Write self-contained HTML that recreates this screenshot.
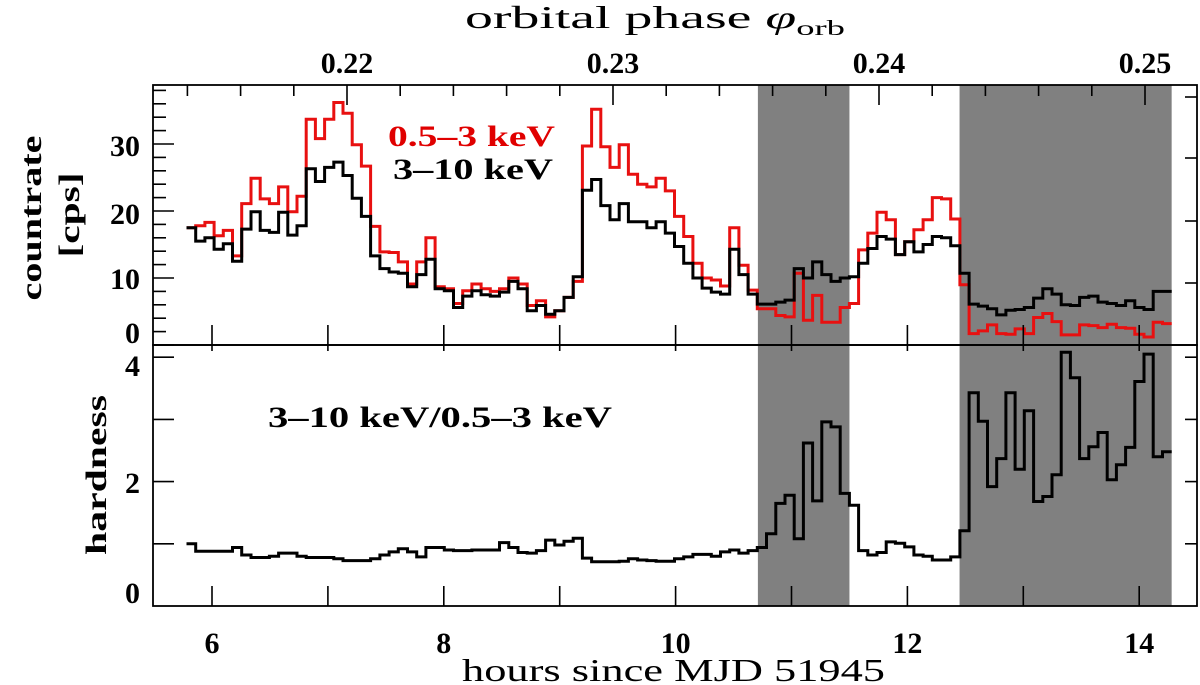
<!DOCTYPE html>
<html><head><meta charset="utf-8">
<style>
html,body{margin:0;padding:0;background:#fff;}
svg{display:block;font-family:"Liberation Serif",serif;}
.tl{font-size:30px;font-weight:bold;}
.ti{font-size:32px;}
</style></head>
<body>
<svg id="chart" width="1200" height="685" viewBox="0 0 1200 685" xmlns="http://www.w3.org/2000/svg">
<g id="bands"></g>
<g id="series"></g>
<g id="axes"></g>
<text class="ti" x="465" y="28" textLength="380" lengthAdjust="spacingAndGlyphs">orbital phase <tspan font-style="italic">φ</tspan><tspan font-size="21" dy="7">orb</tspan></text>
<text class="ti" x="462" y="681" textLength="423" lengthAdjust="spacingAndGlyphs">hours since MJD 51945</text>
<text class="tl" transform="translate(41,218) rotate(-90)" text-anchor="middle" textLength="165" lengthAdjust="spacingAndGlyphs">countrate</text>
<text class="tl" transform="translate(79,215) rotate(-90)" text-anchor="middle" textLength="85" lengthAdjust="spacingAndGlyphs">[cps]</text>
<text class="tl" transform="translate(106,475) rotate(-90)" text-anchor="middle" textLength="160" lengthAdjust="spacingAndGlyphs">hardness</text>
<text class="tl" x="388" y="146" fill="#e00000" textLength="167" lengthAdjust="spacingAndGlyphs">0.5–3 keV</text>
<text class="tl" x="393" y="179" fill="#000" textLength="160" lengthAdjust="spacingAndGlyphs">3–10 keV</text>
<text class="tl" x="268" y="427" fill="#000" textLength="344" lengthAdjust="spacingAndGlyphs">3–10 keV/0.5–3 keV</text>
</svg>
<script>
const binStart = 5.78;
const binWidth = 0.07944;
const hardRate = [17.5,15.5,16.0,14.3,15.1,12.5,17.3,19.9,17.1,16.8,19.8,16.4,17.8,26.3,24.4,26.5,27.3,25.3,21.9,19.2,13.3,11.4,10.9,10.7,8.7,
10.5,12.8,8.4,8.1,5.6,7.3,8.1,7.5,7.3,7.9,9.5,8.4,5.1,5.9,4.6,5.1,7.1,10.2,23.1,24.7,20.8,18.7,21.1,18.4,18.4,17.5,18.4,
16.7,14.7,12.2,10.0,8.5,7.9,7.6,14.3,10.5,7.6,6.1,6.1,6.4,6.7,11.4,10.0,12.4,10.5,9.5,10.0,10.2,12.2,14.4,16.2,15.8,13.5,15.4,13.9,
15.0,16.2,16.0,14.8,10.7,
6.1,5.8,5.4,4.5,5.2,5.3,5.6,7.0,8.4,7.6,6.0,5.9,7.1,7.3,6.4,6.2,5.9,6.6,5.6,5.3,8.0,8.0];
const softRate = [17.5,17.8,18.3,16.3,17.1,13.3,21.1,24.9,21.8,21.1,23.6,19.9,22.2,33.7,30.8,33.7,36.2,34.6,29.9,26.7,17.7,13.9,13.8,12.4,9.1,
12.4,16.0,8.7,8.4,6.2,8.1,9.1,8.4,8.0,8.4,10.0,9.1,5.9,6.6,4.2,5.1,7.1,9.5,29.7,35.2,29.6,26.5,29.9,25.5,24.0,23.6,24.9,
23.0,19.2,16.2,12.2,10.0,9.7,8.8,17.5,11.9,8.2,5.4,5.4,4.4,4.2,10.7,3.7,7.4,3.4,3.4,5.6,6.2,14.2,16.7,19.8,18.7,13.5,15.4,17.2,
18.7,22.0,21.8,18.8,9.0,
1.7,2.1,3.0,1.7,1.6,2.4,1.7,4.1,4.7,3.5,1.5,1.5,3.0,2.9,2.6,3.1,2.6,2.5,1.6,1.2,3.4,3.2];
const hardness = [1.00,0.88,0.88,0.88,0.88,0.94,0.82,0.78,0.78,0.80,0.85,0.85,0.80,0.78,0.78,0.78,0.76,0.73,0.73,0.73,0.76,0.82,0.87,0.92,0.87,0.79,0.94,0.94,0.90,0.89,0.89,0.90,0.90,0.90,1.02,0.94,0.86,0.85,0.89,
1.06,0.98,1.04,1.09,0.77,0.71,0.71,0.71,0.72,0.76,0.74,0.73,0.72,0.72,0.76,0.79,0.83,0.83,0.80,0.87,0.90,0.85,0.89,0.94,
1.16,1.65,1.78,1.08,2.62,1.69,2.96,2.88,1.81,1.62,
0.89,0.82,0.86,1.03,1.01,0.95,0.82,0.80,0.74,0.74,0.79,
1.21,3.43,2.97,1.92,2.37,3.43,2.20,3.14,1.68,1.76,2.11,4.08,3.67,2.37,2.56,2.79,2.03,2.27,2.55,3.61,4.05,2.40,2.48];
const shadedIntervals = [[10.71,11.50],[12.45,14.28]];
const hourTicks = [6,7,8,9,10,11,12,13,14];
const hourLabels = [6,8,10,12,14];
const phaseLabels = ["0.22","0.23","0.24","0.25"];
const rateTicks = [0,10,20,30];
const hardTicks = [0,2,4];

const NS="http://www.w3.org/2000/svg";
const L=153,R=1197,T1=85,B1=345,T2=345,B2=606;
const xS = h => 212 + 115.9*(h-6);
const yRate = v => B1 - 6.7*v;
const yHard = v => B2 - 62.2*v;
const phX = p => 347 + (p-0.22)*26600;
function mk(tag, parent, attrs){const e=document.createElementNS(NS,tag);for(const k in attrs)e.setAttribute(k,attrs[k]);parent.appendChild(e);return e;}
const bands=document.getElementById('bands'), series=document.getElementById('series'), axes=document.getElementById('axes');

shadedIntervals.forEach((iv,i)=>{
  const r=mk('rect',bands,{x:xS(iv[0]),y:T1,width:xS(iv[1])-xS(iv[0]),height:B2-T1,fill:'#808080'});
  
  
});

function stepPath(vals, yf){
  let d='';
  vals.forEach((v,i)=>{
    const x0=xS(binStart+i*binWidth), x1=xS(binStart+(i+1)*binWidth), y=Math.max(yf(v),T1);
    d += (i===0?'M':'L')+x0.toFixed(1)+','+y.toFixed(1)+'L'+x1.toFixed(1)+','+y.toFixed(1);
  });
  return d;
}
const pSoft=mk('path',series,{d:stepPath(softRate,yRate),fill:'none',stroke:'#e81010','stroke-width':3});


const pHard=mk('path',series,{d:stepPath(hardRate,yRate),fill:'none',stroke:'#000','stroke-width':3});


const pRatio=mk('path',series,{d:stepPath(hardness,yHard),fill:'none',stroke:'#000','stroke-width':3});



function line(x1,y1,x2,y2,w){return mk('line',axes,{x1:x1,y1:y1,x2:x2,y2:y2,stroke:'#000','stroke-width':w||1.6});}
const f1=mk('rect',axes,{x:L,y:T1,width:R-L,height:B1-T1,fill:'none',stroke:'#000','stroke-width':1.8});


const f2=mk('rect',axes,{x:L,y:T2,width:R-L,height:B2-T2,fill:'none',stroke:'#000','stroke-width':1.8});


hourTicks.forEach(h=>{const x=xS(h);line(x,B1,x,B1-20);line(x,B2,x,B2-20);line(x,T2,x,T2+6);});
for(let p=0.214;p<=0.2505;p+=0.002){const x=phX(p);if(x<L||x>R)continue;const maj=Math.abs(Math.round(p*100)-p*100)<1e-6;line(x,T1,x,T1+(maj?20:11));}
for(let v=0;v<=38;v+=2){const y=yRate(v);line(L,y,L+(v%10===0?21:13),y);}
[97,158,221,283].forEach(y=>line(R,y,R-12,y));
for(let v=1;v<=4;v++){const y=yHard(v);line(L,y,L+21,y);line(R,y,R-12,y);}
function txt(s,x,y,anchor,name){const t=mk('text',axes,{x:x,y:y,'text-anchor':anchor,'class':'tl'});t.textContent=s;return t;}
hourLabels.forEach(h=>txt(String(h),xS(h),653,'middle','x-tick-label-'+h));
phaseLabels.forEach(p=>txt(p,phX(parseFloat(p)),73,'middle','phase-tick-label-'+p));
const rateLabelY={0:343,10:289,20:224,30:156};
rateTicks.forEach(v=>txt(String(v),140,rateLabelY[v],'end','rate-tick-label-'+v));
const hardLabelY={0:603,2:493,4:376};
hardTicks.forEach(v=>txt(String(v),140,hardLabelY[v],'end','hardness-tick-label-'+v));
</script>
</body></html>
